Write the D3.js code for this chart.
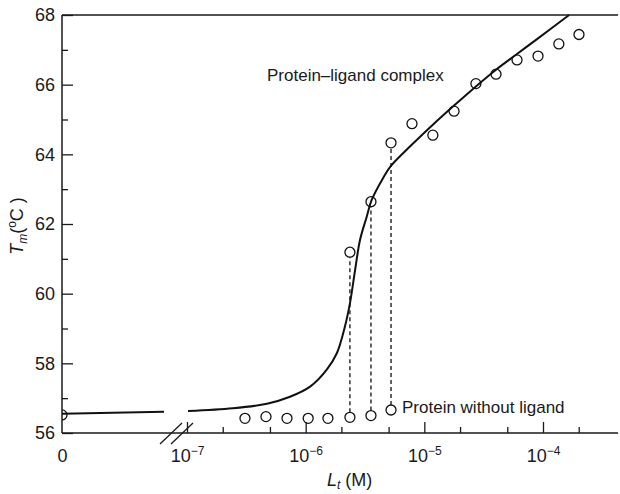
<!DOCTYPE html>
<html>
<head>
<meta charset="utf-8">
<script src="https://cdnjs.cloudflare.com/ajax/libs/d3/7.8.5/d3.min.js"></script>
<style>
  body { margin: 0; background: #fff; }
  svg text { font-family: "Liberation Sans", Arial, Helvetica, sans-serif; fill: #1a1a1a; }
</style>
</head>
<body>
<div id="chart"></div>
<script>
/*Values*/
const zeroConc = [0, 5e-8];
const zeroFitTm = [56.55, 56.61];

const fitConc = [1.02e-7, 2.44e-7, 4.72e-7, 7.38e-7, 1.09e-6, 1.50e-6, 1.83e-6, 2.14e-6, 2.36e-6,
                 2.61e-6, 2.87e-6, 3.27e-6, 3.60e-6, 4.51e-6, 5.21e-6, 7.87e-6, 1.18e-5, 1.78e-5,
                 2.72e-5, 4.02e-5, 6.04e-5, 9.08e-5, 1.66e-4];
const fitTm = [56.63, 56.71, 56.84, 57.04, 57.33, 57.81, 58.29, 59.05, 59.72,
               60.68, 61.54, 62.21, 62.69, 63.33, 63.66, 64.28, 64.85, 65.40,
               65.95, 66.43, 66.88, 67.33, 68.0];

const zeroPointTm = 56.52;

const freeConc = [3.08e-7, 4.63e-7, 6.96e-7, 1.05e-6, 1.54e-6, 2.36e-6, 3.55e-6, 5.24e-6];
const freeTm = [56.42, 56.47, 56.42, 56.42, 56.42, 56.45, 56.50, 56.66];

const complexConc = [2.36e-6, 3.55e-6, 5.24e-6, 7.87e-6, 1.18e-5, 1.78e-5, 2.72e-5, 4.02e-5,
                     6.04e-5, 9.08e-5, 1.36e-4, 2.01e-4];
const complexTm = [61.19, 62.64, 64.33, 64.88, 64.55, 65.24, 66.03, 66.30,
                   66.71, 66.82, 67.17, 67.44];

const dropConc = [2.36e-6, 3.55e-6, 5.24e-6];

const yMajor = [56, 58, 60, 62, 64, 66, 68];
const yMinor = [57, 59, 61, 63, 65, 67];
const xMajor = [1e-7, 1e-6, 1e-5, 1e-4];
const xExponents = ["\u22127", "\u22126", "\u22125", "\u22124"];
const xMinor = [2e-7, 5e-7, 2e-6, 5e-6, 2e-5, 5e-5, 2e-4];

/*Layout*/
const chartWidth = 620;
const chartHeight = 494;
const plotLeft = 62, plotRight = 618, plotTop = 15, plotBottom = 433;
const r = 5;

const svg = d3.select("#chart")
  .append("svg")
  .attr("width", chartWidth)
  .attr("height", chartHeight);

/*Scales: linear piece for zero, log piece after the break*/
const xZero = d3.scaleLinear().domain([0, 5e-8]).range([plotLeft, 164]);
const xLog = d3.scaleLog().domain([1e-7, 1e-4]).range([187, 543]);
const y = d3.scaleLinear().domain([56, 68]).range([plotBottom, plotTop]);
const xPos = c => c <= 5e-8 ? xZero(c) : xLog(c);

svg.append("clipPath").attr("id", "plotclip")
  .append("rect")
  .attr("x", plotLeft).attr("y", plotTop - 2)
  .attr("width", plotRight - plotLeft).attr("height", plotBottom - plotTop + 2);

/*Frame lines*/
const frame = svg.append("g").attr("stroke", "#1a1a1a").attr("stroke-width", 1.5);
frame.append("line").attr("x1", plotLeft).attr("x2", plotRight).attr("y1", plotBottom).attr("y2", plotBottom);
frame.append("line").attr("x1", plotLeft).attr("x2", plotLeft).attr("y1", plotTop).attr("y2", plotBottom);
frame.append("line").attr("x1", plotLeft).attr("x2", plotRight).attr("y1", plotTop).attr("y2", plotTop);

/*Y axis*/
const yAxis = svg.append("g")
  .attr("transform", `translate(${plotLeft},0)`)
  .call(d3.axisLeft(y).tickValues(yMajor).tickSize(-11).tickPadding(7).tickFormat(d3.format("d")));
const yAxisMinor = svg.append("g")
  .attr("transform", `translate(${plotLeft},0)`)
  .call(d3.axisLeft(y).tickValues(yMinor).tickSize(-6).tickFormat(""));

/*X axis, log part*/
const xAxis = svg.append("g")
  .attr("transform", `translate(0,${plotBottom})`)
  .call(d3.axisBottom(xLog).tickValues(xMajor).tickSize(-11).tickPadding(16).tickFormat(""));
const xAxisMinor = svg.append("g")
  .attr("transform", `translate(0,${plotBottom})`)
  .call(d3.axisBottom(xLog).tickValues(xMinor).tickSize(-6).tickFormat(""));
/*zero label*/
const xAxisZero = svg.append("g")
  .attr("transform", `translate(0,${plotBottom})`)
  .call(d3.axisBottom(xZero).tickValues([0]).tickSize(0).tickPadding(16).tickFormat(d3.format("d")));

[yAxis, yAxisMinor, xAxis, xAxisMinor, xAxisZero].forEach(g => {
  g.select(".domain").remove();
  g.selectAll("line").attr("stroke", "#1a1a1a").attr("stroke-width", 1.3);
  g.selectAll("text").attr("font-size", 18).attr("fill", "#1a1a1a")
    .style("font-family", "'Liberation Sans', Arial, sans-serif");
});

xAxis.selectAll("text").each(function(d, i) {
  const t = d3.select(this);
  t.append("tspan").text("10");
  t.append("tspan").attr("font-size", 12).attr("dy", "-0.55em").text(xExponents[i]);
});

/*Axis break*/
const brk = svg.append("g").attr("stroke", "#1a1a1a").attr("stroke-width", 1.3);
[160, 171].forEach(bx => {
  brk.append("line")
    .attr("x1", bx).attr("y1", plotBottom + 11)
    .attr("x2", bx + 22).attr("y2", plotBottom - 10);
});

const plot = svg.append("g").attr("clip-path", "url(#plotclip)");

/*Fitted curve*/
const line = d3.line()
  .x(d => xPos(d[0]))
  .y(d => y(d[1]))
  .curve(d3.curveCatmullRom.alpha(0.5));

plot.append("path")
  .datum(d3.zip(zeroConc, zeroFitTm))
  .attr("d", line)
  .attr("fill", "none").attr("stroke", "#111").attr("stroke-width", 2);

plot.append("path")
  .datum(d3.zip(fitConc, fitTm))
  .attr("d", line)
  .attr("fill", "none").attr("stroke", "#111").attr("stroke-width", 2);

/*Dashed drop lines*/
plot.selectAll(".drop")
  .data(dropConc)
  .join("line")
  .attr("class", "drop")
  .attr("x1", d => xLog(d)).attr("x2", d => xLog(d))
  .attr("y1", d => y(freeTm[freeConc.indexOf(d)]) - r)
  .attr("y2", d => y(complexTm[complexConc.indexOf(d)]) + r)
  .attr("stroke", "#111").attr("stroke-width", 1.3)
  .attr("stroke-dasharray", "4,3");

/*Points*/
const pts = d3.zip(freeConc, freeTm).concat(d3.zip(complexConc, complexTm));
plot.selectAll(".pt")
  .data(pts)
  .join("circle")
  .attr("class", "pt")
  .attr("cx", d => xLog(d[0]))
  .attr("cy", d => y(d[1]))
  .attr("r", r)
  .attr("fill", "none").attr("stroke", "#111").attr("stroke-width", 1.3);

plot.append("circle")
  .attr("cx", xZero(0)).attr("cy", y(zeroPointTm)).attr("r", r)
  .attr("fill", "none").attr("stroke", "#111").attr("stroke-width", 1.3);

/*Annotations*/
svg.append("text")
  .attr("x", 267).attr("y", 81)
  .attr("font-size", 17)
  .text("Protein\u2013ligand complex");

svg.append("text")
  .attr("x", 402).attr("y", 413)
  .attr("font-size", 17)
  .text("Protein without ligand");

/*Axis titles*/
const xTitle = svg.append("text")
  .attr("x", 327).attr("y", 486)
  .attr("font-size", 18);
xTitle.append("tspan").attr("font-style", "italic").text("L");
xTitle.append("tspan").attr("font-style", "italic").attr("font-size", 12).attr("dy", 3).text("t");
xTitle.append("tspan").attr("dy", -3).text(" (M)");

const yTitle = svg.append("text")
  .attr("transform", "translate(23,226) rotate(-90)")
  .attr("text-anchor", "middle")
  .attr("font-size", 18);
yTitle.append("tspan").attr("font-style", "italic").text("T");
yTitle.append("tspan").attr("font-style", "italic").attr("font-size", 12).attr("dy", 4).text("m");
yTitle.append("tspan").attr("dy", -4).text("(");
yTitle.append("tspan").attr("font-size", 12).attr("dy", -7).text("o");
yTitle.append("tspan").attr("dy", 7).text("C )");
</script>
</body>
</html>
